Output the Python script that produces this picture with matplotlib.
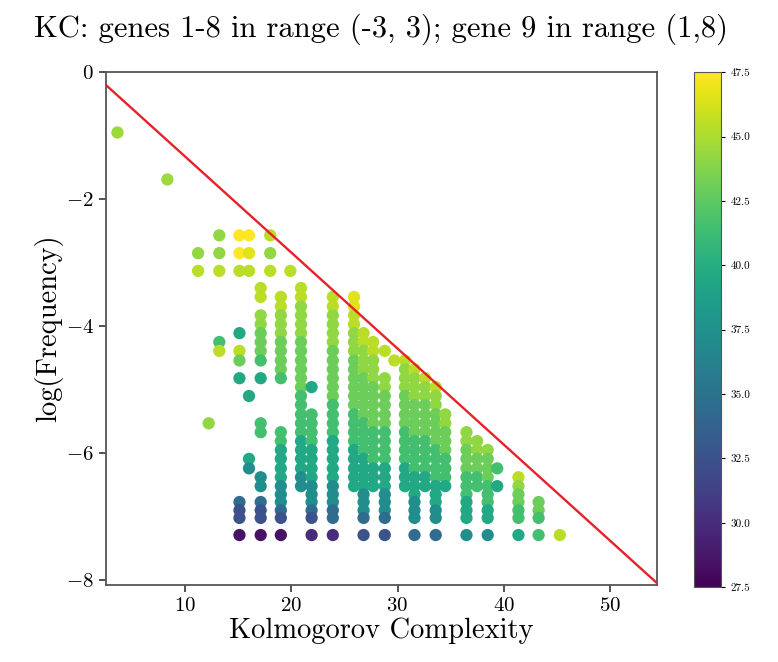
import numpy as np
import matplotlib
matplotlib.use("Agg")
import matplotlib.pyplot as plt

plt.rcParams.update({
    "font.family": "serif",
    "font.serif": ["cmr10", "DejaVu Serif"],
    "mathtext.fontset": "cm",
    "axes.formatter.use_mathtext": True,
})

# KC columns (x) and log-frequency rows (y)
col_x = [11.2, 12.2, 13.2, 14.2, 15.1, 16.0, 17.1, 18.0, 19.0, 19.9, 20.9, 21.9,
         22.9, 23.9, 24.9, 25.9, 26.8, 27.7, 28.8, 29.7, 30.7, 31.6, 32.6, 33.6,
         34.5, 35.6, 36.5, 37.5, 38.5, 39.4, 40.5, 41.4, 42.4, 43.3, 44.3, 45.3]
row_y = [-2.57, -2.85, -3.13, -3.40, -3.54, -3.69, -3.83, -3.97, -4.11, -4.25,
         -4.39, -4.54, -4.68, -4.82, -4.96, -5.10, -5.24, -5.39, -5.53, -5.67,
         -5.81, -5.95, -6.09, -6.24, -6.38, -6.52, -6.65, -6.77, -6.90, -7.02,
         -7.29]

# one string per column, one char per row (top -> bottom), '.' = no point
col_cells = [
    ".lL .......... .......... ....... .",
    "... .......... .....l.... ....... .",
    "llL ......gL.. .......... ....... .",
    "... .......... .......... ....... .",
    "YYL .....T.LG. T......... ....cbb p",
    "YyL .......... ..T......T t...... .",
    "... LL.llGGGg. T....gg... .tt.cbb p",
    "LlL .......... .......... ....... .",
    "... .LLlllGGGG g.....ggTT TTtttcb p",
    "..L .......... .......... ....... .",
    "... LLllllGGGG GGgggggTTT Ttt.... .",
    "... .......... .T..ggggTT TTtttcb q",
    "... .......... .......... ....... .",
    "... .LLllllGGG GGGggggTTT TTtttcc q",
    "... .......... .......... ....... .",
    "... .yyLLlllGG GGGGggggTT TTT.... .",
    "... .....LLlll GGGGGggggT TTTtttc b",
    "... ......LLll lGGGGGgggg TTT.... .",
    "... .......L.. llGGGGgggg TTTtttc b",
    "... ........L. .......... ....... .",
    "... ........Ll llGGGGgggg TTT.... .",
    "... .........L lllGGGGggg gTTTttt c",
    "... .......... LllGGGGggg gTT.... .",
    "... .......... .LllGGGGgg ggTTTtt c",
    "... .......... ....llGGGg ggT.... .",
    "... .......... .......... ....... .",
    "... .......... ......llGG GgggTTT t",
    "... .......... .......llG Ggg.... .",
    "... .......... ........lG GGgggTT t",
    "... .......... .......... g.T.... .",
    "... .......... .......... ....... .",
    "... .......... .......... .LlGGgg T",
    "... .......... .......... ....... .",
    "... .......... .......... ....GGg g",
    "... .......... .......... ....... .",
    "... .......... .......... ....... L",
]
code_value = {"p": 28.5, "q": 30.0, "b": 32.5, "c": 34.5, "t": 37.3, "T": 39.5,
              "g": 41.5, "G": 43.0, "l": 44.2, "L": 45.4, "y": 46.5, "Y": 47.5}

# isolated low-complexity points
extra_x = [3.6, 8.3]
extra_y = [-0.95, -1.69]
extra_c = [44.5, 44.5]

# upper bound line
bound_slope = -0.151
bound_icpt = 0.177

xs, ys, cs = list(extra_x), list(extra_y), list(extra_c)
for x, cells in zip(col_x, col_cells):
    for y, ch in zip(row_y, cells.replace(" ", "")):
        if ch != ".":
            xs.append(x)
            ys.append(y)
            cs.append(code_value[ch])

fig = plt.figure(figsize=(7.78, 6.62), dpi=100)
ax = fig.add_axes([0.136, 0.116, 0.709, 0.775])
cax = fig.add_axes([0.892, 0.113, 0.035, 0.778])

sc = ax.scatter(xs, ys, c=cs, cmap="viridis", vmin=27.5, vmax=47.5, s=78,
                linewidths=0, zorder=2)
xlim = np.array([2.5, 54.5])
ax.plot(xlim, bound_slope * xlim + bound_icpt, color="#e8202a", lw=1.7, zorder=3)
ax.set_xlim(*xlim)
ax.set_ylim(-8.08, 0)
ax.set_xticks([10, 20, 30, 40, 50])
ax.set_yticks([0, -2, -4, -6, -8])
ax.tick_params(labelsize=15, width=1.2, length=5, color="#333333")
for sp in ax.spines.values():
    sp.set_color("#555555")
    sp.set_linewidth(1.3)
ax.set_xlabel("Kolmogorov Complexity", fontsize=20.5, labelpad=2)
ax.set_ylabel("log(Frequency)", fontsize=20.5, labelpad=2)
fig.suptitle("KC: genes 1-8 in range (-3, 3); gene 9 in range (1,8)",
             fontsize=22, x=0.49, y=0.98)

cb = fig.colorbar(sc, cax=cax, ticks=np.arange(27.5, 47.6, 2.5))
cb.ax.tick_params(labelsize=8, length=3)
cb.ax.set_yticklabels([f"{v:.1f}" for v in np.arange(27.5, 47.6, 2.5)])
cb.outline.set_edgecolor("#555555")

fig.savefig("out.png", dpi=100)
